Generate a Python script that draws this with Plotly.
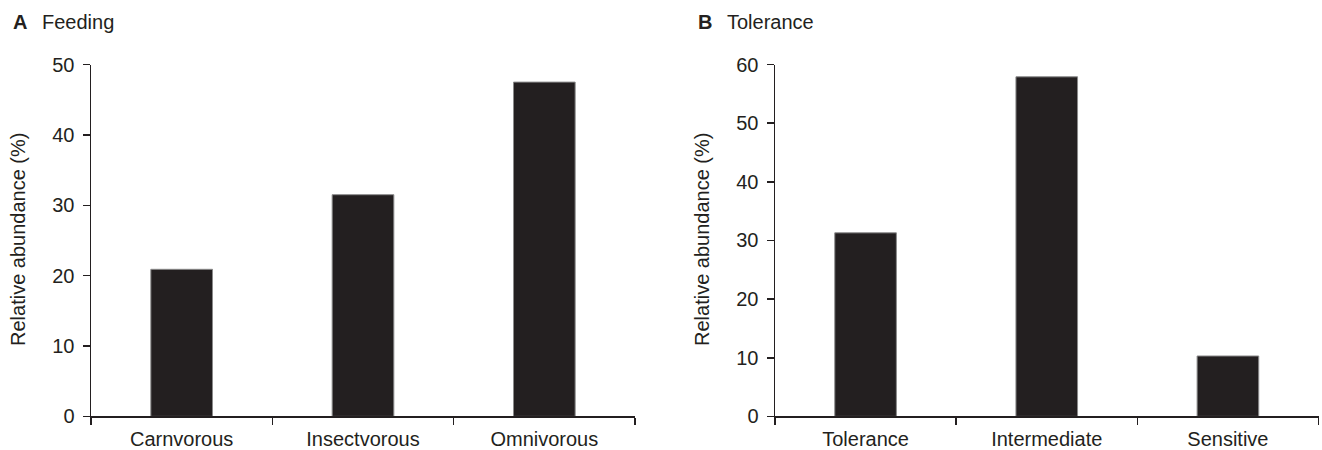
import plotly.graph_objects as go

W, H = 1322, 450

feeding_cats = ["Carnvorous", "Insectvorous", "Omnivorous"]
feeding_vals = [20.9, 31.5, 47.5]
tolerance_cats = ["Tolerance", "Intermediate", "Sensitive"]
tolerance_vals = [31.3, 57.9, 10.3]
feeding_yticks = [0, 10, 20, 30, 40, 50]
tolerance_yticks = [0, 10, 20, 30, 40, 50, 60]

INK = "#231f20"
FONT = "Liberation Sans, Arial, Helvetica, sans-serif"

fig = go.Figure()
fig.add_trace(go.Bar(x=feeding_cats, y=feeding_vals, width=0.34,
                     marker=dict(color=INK, line=dict(color="#8a8a8a", width=1)),
                     xaxis="x", yaxis="y", showlegend=False))
fig.add_trace(go.Bar(x=tolerance_cats, y=tolerance_vals, width=0.34,
                     marker=dict(color=INK, line=dict(color="#8a8a8a", width=1)),
                     xaxis="x2", yaxis="y2", showlegend=False))

ydom = [(H - 416.4) / H, (H - 64.5) / H]
xa = dict(type="category", range=[-0.5, 2.5], showline=True, linecolor=INK, linewidth=1.5,
          ticks="outside", tickson="boundaries", ticklen=7, tickcolor=INK, tickwidth=1.5,
          showgrid=False, zeroline=False, tickfont=dict(size=20, color=INK, family=FONT),
          fixedrange=True, automargin=False, ticklabelstandoff=4)
ya = dict(showline=True, linecolor=INK, linewidth=1.5, ticks="outside", ticklen=7,
          tickcolor=INK, tickwidth=1.5, showgrid=False, zeroline=False, domain=ydom,
          tickfont=dict(size=20, color=INK, family=FONT), ticklabelstandoff=4,
          automargin=False, fixedrange=True)

fig.update_layout(
    width=W, height=H,
    margin=dict(l=0, r=0, t=0, b=0, autoexpand=False),
    paper_bgcolor="white", plot_bgcolor="white",
    font=dict(family=FONT, color=INK, size=20),
    bargap=0,
    hovermode=False,
    xaxis=dict(xa, domain=[91 / W, 635 / W], anchor="y"),
    yaxis=dict(ya, range=[0, 50], tickvals=feeding_yticks, anchor="x"),
    xaxis2=dict(xa, domain=[775 / W, 1318.5 / W], anchor="y2"),
    yaxis2=dict(ya, range=[0, 60], tickvals=tolerance_yticks, anchor="x2"),
    annotations=[
        dict(text="<b>A</b>", x=11 / W, y=1 - 22 / H, xref="paper", yref="paper",
             xanchor="left", yanchor="middle", showarrow=False, font=dict(size=20)),
        dict(text="Feeding", x=40 / W, y=1 - 22 / H, xref="paper", yref="paper",
             xanchor="left", yanchor="middle", showarrow=False, font=dict(size=20)),
        dict(text="<b>B</b>", x=696 / W, y=1 - 22 / H, xref="paper", yref="paper",
             xanchor="left", yanchor="middle", showarrow=False, font=dict(size=20)),
        dict(text="Tolerance", x=725 / W, y=1 - 22 / H, xref="paper", yref="paper",
             xanchor="left", yanchor="middle", showarrow=False, font=dict(size=20)),
        dict(text="Relative abundance (%)", x=18 / W, y=1 - 240 / H, xref="paper", yref="paper",
             xanchor="center", yanchor="middle", textangle=-90, showarrow=False,
             font=dict(size=20)),
        dict(text="Relative abundance (%)", x=702 / W, y=1 - 240 / H, xref="paper", yref="paper",
             xanchor="center", yanchor="middle", textangle=-90, showarrow=False,
             font=dict(size=20)),
    ],
)

fig.write_html(
    "out.html",
    config={"displayModeBar": False, "staticPlot": True},
    post_script="document.body.style.margin='0';document.body.style.overflow='hidden';",
)
